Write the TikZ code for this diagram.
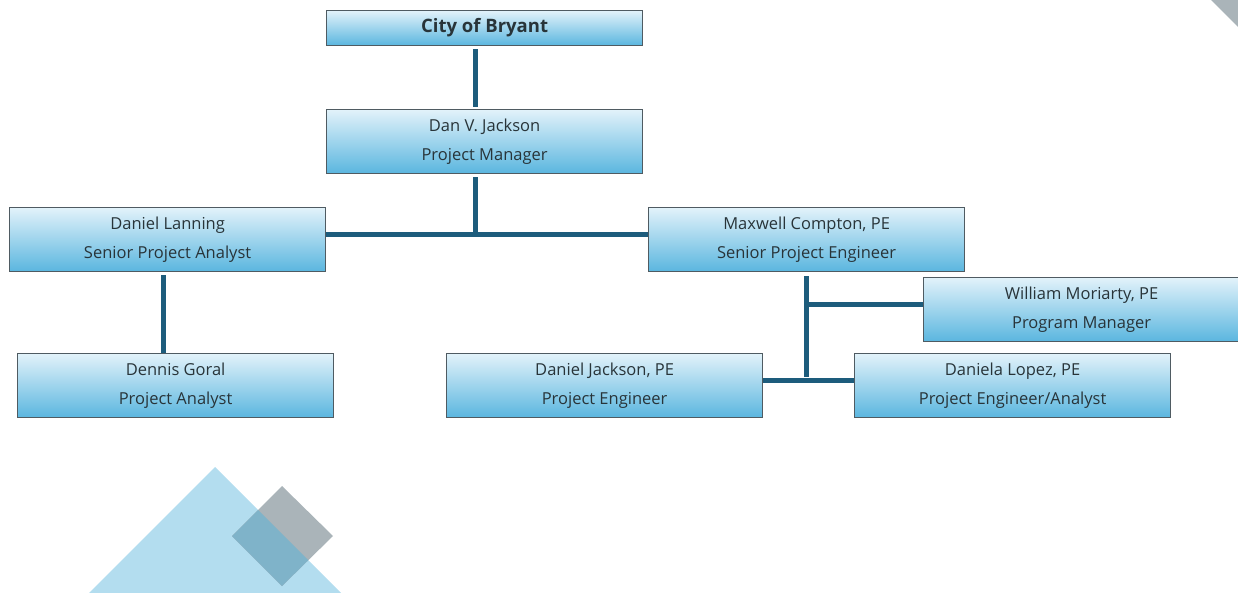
\documentclass[tikz,border=0pt]{standalone}
\usepackage{fontspec}
\setmainfont{Open Sans}
\definecolor{boxtop}{HTML}{E2F2FA}
\definecolor{boxbot}{HTML}{5AB6DF}
\definecolor{boxline}{HTML}{4F5B62}
\definecolor{conn}{HTML}{1D5C7C}
\definecolor{txt}{HTML}{283439}
\definecolor{tri}{HTML}{B3DDEF}
\definecolor{dia}{HTML}{AAB4B9}
\definecolor{ovl}{HTML}{7FB3C9}
\tikzset{
  box/.style={draw=boxline, line width=1.2pt, top color=boxtop, bottom color=boxbot,
    minimum width=316pt, minimum height=64pt, anchor=north west, inner sep=0pt,
    align=center, text=txt, font=\fontsize{16.5}{29}\selectfont},
  link/.style={draw=conn, line width=5pt}
}
\begin{document}
\begin{tikzpicture}[x=1pt,y=-1pt]
\useasboundingbox (0,0) rectangle (1238,593);
% decorations
\fill[tri] (215,467) -- (341,593) -- (89,593) -- cycle;
\fill[dia] (282,486) -- (333,536) -- (282,586) -- (232,536) -- cycle;
\begin{scope}
  \clip (215,467) -- (341,593) -- (89,593) -- cycle;
  \fill[ovl] (282,486) -- (333,536) -- (282,586) -- (232,536) -- cycle;
\end{scope}
\fill[dia] (1211,0) -- (1238,0) -- (1238,27) -- cycle;
% boxes
\node[box, minimum height=35pt, font=\fontsize{18.5}{20}\selectfont\bfseries] (city) at (326,10) {City of Bryant};
\node[box] (dan) at (326,109) {Dan V. Jackson\\Project Manager};
\node[box] (lan) at (9,207) {Daniel Lanning\\Senior Project Analyst};
\node[box] (max) at (648,207) {Maxwell Compton, PE\\Senior Project Engineer};
\node[box] (wil) at (923,277) {William Moriarty, PE\\Program Manager};
\node[box] (den) at (17,353) {Dennis Goral\\Project Analyst};
\node[box] (dj) at (446,353) {Daniel Jackson, PE\\Project Engineer};
\node[box] (dl) at (854,353) {Daniela Lopez, PE\\Project Engineer/Analyst};
% connectors
\coordinate (j1) at (475,235);
\coordinate (j2) at (806,304);
\coordinate (j3) at (806,380);
\draw[link] ([yshift=-3pt]city.south -| j1) -- ([yshift=2pt]dan.north -| j1);
\draw[link] ([yshift=-3pt]dan.south -| j1) -- (j1);
\draw[link] (lan.east |- j1) -- (max.west |- j1);
\draw[link] ([yshift=-3pt]lan.south -| 163,0) -- (den.north -| 163,0);
\draw[link] ([yshift=-4pt]max.south -| j3) -- ([yshift=3pt]j3);
\draw[link] ([xshift=3pt]j2) -- (wil.west |- j2);
\draw[link] (dj.east |- j3) -- (dl.west |- j3);
\end{tikzpicture}
\end{document}
